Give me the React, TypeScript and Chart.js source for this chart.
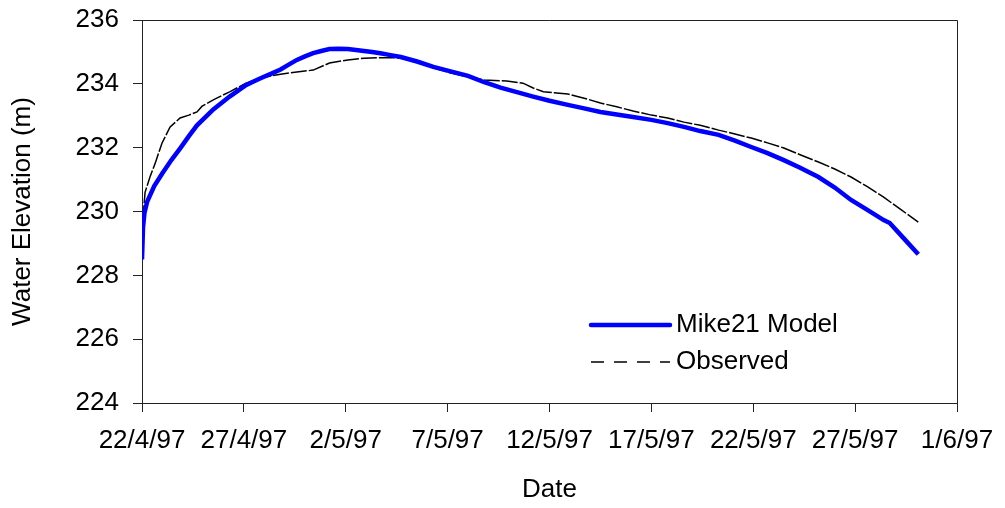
import React, { useEffect, useRef } from "react";
import { Chart, registerables } from "chart.js";

Chart.register(...registerables);

const xTickLabels = ["22/4/97", "27/4/97", "2/5/97", "7/5/97", "12/5/97", "17/5/97", "22/5/97", "27/5/97", "1/6/97"];

const modelDays = [0, 0.05, 0.12, 0.25, 0.6, 1.0, 1.45, 1.9, 2.3, 2.7, 3.1, 3.5, 3.9, 4.3, 4.7, 5.1, 5.5, 5.9, 6.35, 6.8, 7.2, 7.6, 8.0, 8.4, 8.8, 9.2, 9.65, 10.1, 10.5, 10.9, 11.3, 11.7, 12.2, 12.7, 13.5, 14.3, 15.1, 16.0, 16.8, 17.6, 18.4, 19.2, 20.0, 20.9, 21.7, 22.5, 23.3, 24.1, 25.0, 25.8, 26.6, 27.4, 28.3, 29.1, 29.9, 30.7, 31.5, 32.3, 33.2, 34.0, 34.8, 35.6, 36.4, 36.7, 37.4, 38.1];
const modelValues = [228.5, 229.5, 229.95, 230.3, 230.8, 231.2, 231.62, 232.0, 232.36, 232.7, 232.95, 233.2, 233.4, 233.6, 233.78, 233.96, 234.08, 234.2, 234.32, 234.45, 234.6, 234.75, 234.86, 234.96, 235.03, 235.09, 235.1, 235.09, 235.06, 235.03, 235.0, 234.96, 234.9, 234.84, 234.7, 234.53, 234.4, 234.25, 234.05, 233.88, 233.74, 233.6, 233.47, 233.34, 233.23, 233.12, 233.04, 232.96, 232.87, 232.77, 232.65, 232.52, 232.4, 232.22, 232.02, 231.83, 231.61, 231.37, 231.08, 230.75, 230.36, 230.05, 229.73, 229.64, 229.15, 228.66];

const observedDays = [0, 0.05, 0.15, 0.4, 0.64, 0.98, 1.38, 1.87, 2.3, 2.7, 2.95, 3.5, 4.3, 5.1, 5.9, 6.8, 7.6, 8.4, 9.2, 10.1, 10.9, 11.7, 12.5, 13.3, 14.3, 15.1, 16.0, 16.8, 17.9, 18.7, 19.2, 19.7, 20.9, 21.7, 22.5, 23.3, 24.1, 25.0, 25.8, 26.6, 27.4, 28.3, 29.1, 29.9, 30.7, 31.5, 32.3, 33.2, 34.0, 34.8, 35.6, 36.4, 37.2, 38.1];
const observedValues = [229.7, 229.8, 230.6, 231.1, 231.5, 232.14, 232.65, 232.93, 233.02, 233.12, 233.3, 233.5, 233.75, 234.02, 234.2, 234.3, 234.37, 234.43, 234.65, 234.75, 234.8, 234.82, 234.82, 234.75, 234.5, 234.35, 234.22, 234.12, 234.09, 234.02, 233.87, 233.75, 233.68, 233.55, 233.4, 233.28, 233.15, 233.02, 232.93, 232.8, 232.7, 232.55, 232.43, 232.3, 232.15, 231.99, 231.78, 231.55, 231.33, 231.08, 230.78, 230.45, 230.08, 229.67];

const seriesNames = ["Mike21 Model", "Observed"];

const FONT = "'Liberation Sans', Arial, sans-serif";

const frameAndLegend = {
  id: "frameAndLegend",
  afterDraw(chart: any) {
    const { ctx, chartArea } = chart;
    const { left, top, right, bottom } = chartArea;
    ctx.save();
    ctx.strokeStyle = "#222";
    ctx.lineWidth = 1;
    ctx.beginPath();
    ctx.moveTo(left, Math.round(top) + 0.5);
    ctx.lineTo(Math.round(right) + 0.5, Math.round(top) + 0.5);
    ctx.lineTo(Math.round(right) + 0.5, bottom);
    ctx.stroke();

    const lx0 = left + 449;
    const lx1 = left + 528;
    const y1 = top + 305;
    const y2 = top + 342;
    ctx.lineCap = "round";
    ctx.strokeStyle = "#0000FF";
    ctx.lineWidth = 4.5;
    ctx.beginPath();
    ctx.moveTo(lx0, y1);
    ctx.lineTo(lx1, y1);
    ctx.stroke();
    ctx.lineCap = "butt";
    ctx.strokeStyle = "#000";
    ctx.lineWidth = 1.5;
    ctx.setLineDash([13, 10]);
    ctx.beginPath();
    ctx.moveTo(lx0, y2);
    ctx.lineTo(lx1, y2);
    ctx.stroke();
    ctx.setLineDash([]);
    ctx.fillStyle = "#000";
    ctx.font = `26px ${FONT}`;
    ctx.textBaseline = "middle";
    ctx.textAlign = "left";
    ctx.fillText(seriesNames[0], lx1 + 6, y1);
    ctx.fillText(seriesNames[1], lx1 + 6, y2);
    ctx.restore();
  },
};

export default function App() {
  const ref = useRef<HTMLCanvasElement>(null);
  useEffect(() => {
    document.body.style.margin = "0";
    const chart = new Chart(ref.current!, {
      type: "line",
      data: {
        datasets: [
          {
            label: seriesNames[0],
            data: modelDays.map((d, i) => ({ x: d, y: modelValues[i] })),
            borderColor: "#0000FF",
            borderWidth: 4.5,
            pointRadius: 0,
            tension: 0,
            fill: false,
          },
          {
            label: seriesNames[1],
            data: observedDays.map((d, i) => ({ x: d, y: observedValues[i] })),
            borderColor: "#000000",
            borderWidth: 1.5,
            borderDash: [16, 2],
            pointRadius: 0,
            tension: 0,
            fill: false,
          },
        ],
      },
      options: {
        animation: false,
        responsive: false,
        devicePixelRatio: 1,
        layout: { padding: { top: 20, right: 48, left: 0, bottom: 0 } },
        plugins: {
          legend: { display: false },
          tooltip: { enabled: false },
        },
        scales: {
          x: {
            type: "linear",
            min: 0,
            max: 40,
            afterFit: (s: any) => {
              s.height = 105;
              s.paddingLeft = 0;
              s.paddingRight = 0;
            },
            afterBuildTicks: (s: any) => {
              s.ticks = xTickLabels.map((_, i) => ({ value: i * 5 }));
            },
            ticks: {
              autoSkip: false,
              maxRotation: 0,
              color: "#000",
              font: { family: FONT, size: 26 },
              padding: 13,
              callback: (_v: any, i: number) => xTickLabels[i],
            },
            grid: { drawOnChartArea: false, drawTicks: true, tickLength: 9, color: "#222" },
            border: { color: "#222", width: 1 },
            title: {
              display: true,
              text: "Date",
              color: "#000",
              font: { family: FONT, size: 26 },
              padding: { top: 0, bottom: 3 },
            },
          },
          y: {
            min: 224,
            max: 236,
            afterFit: (s: any) => {
              s.width = 142;
              s.paddingTop = 0;
              s.paddingBottom = 0;
            },
            ticks: {
              stepSize: 2,
              color: "#000",
              font: { family: FONT, size: 26 },
              padding: 14,
            },
            grid: { drawOnChartArea: false, drawTicks: true, tickLength: 9, color: "#222" },
            border: { color: "#222", width: 1 },
            title: {
              display: true,
              text: "Water Elevation (m)",
              color: "#000",
              font: { family: FONT, size: 26 },
              padding: { top: 7, bottom: 0 },
            },
          },
        },
      },
      plugins: [frameAndLegend],
    });
    return () => chart.destroy();
  }, []);
  return (
    <div style={{ width: 1005, height: 508 }}>
      <canvas ref={ref} width={1005} height={508} />
    </div>
  );
}
